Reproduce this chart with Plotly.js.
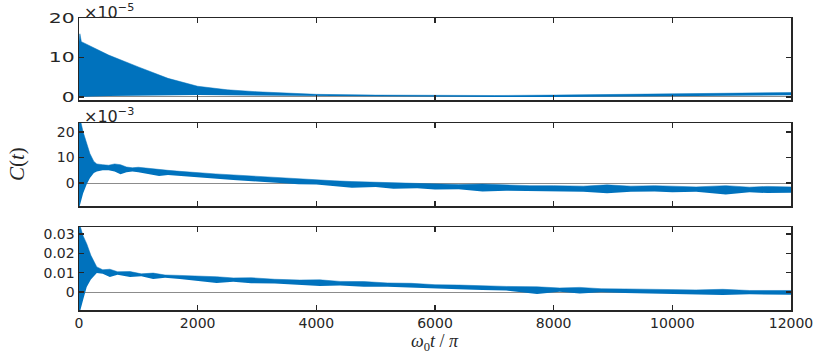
<!DOCTYPE html>
<html>
<head>
<meta charset="utf-8">
<script src="https://cdn.plot.ly/plotly-3.0.1.min.js"></script>
<style>
  html, body { margin: 0; padding: 0; background: #fff; }
  #plot { width: 830px; height: 354px; }
</style>
</head>
<body>
<div id="plot"></div>
<script>
// time axis, omega_0 t / pi
const xTicks = [0, 2000, 4000, 6000, 8000, 10000, 12000];
const xTickText = ['0', '2000', '4000', '6000', '8000', '10000', '12000'];

// top panel, units of 1e-5
const topX = [0, 15, 40, 200, 500, 1000, 1500, 2000, 2500, 3000, 3500, 4000, 5000, 6000, 7000, 8000, 9000, 10000, 11000, 12000];
const topUpper = [14, 16, 14, 12.8, 10.6, 7.6, 4.7, 2.7, 1.8, 1.3, 0.9, 0.65, 0.45, 0.35, 0.35, 0.45, 0.6, 0.7, 0.9, 1.1];
const topLower = [0, 0, 0, 0.1, 0.2, 0.3, 0.4, 0.5, 0.4, 0.35, 0.3, 0.2, 0.1, 0.0, -0.05, 0.0, 0.1, 0.2, 0.3, 0.4];

// middle panel, units of 1e-3
const midX = [0, 30, 70, 130, 185, 250, 300, 400, 500, 600, 700, 800, 900, 1000, 1200, 1350, 1500, 1700, 2000, 2300, 2600, 3000, 3400, 3700, 4000, 4300, 4600, 5000, 5300, 5700, 6000, 6400, 6800, 7200, 7600, 8000, 8500, 8900, 9300, 9700, 10000, 10400, 10900, 11300, 11600, 12000];
const midUpper = [26, 24, 20, 15.7, 11.5, 8.5, 7.5, 7.2, 7.0, 7.5, 7.2, 6.3, 6.0, 6.2, 5.6, 5.3, 5.0, 4.6, 4.0, 3.6, 3.2, 2.6, 2.0, 1.6, 1.2, 0.9, 0.6, 0.3, 0.2, -0.1, -0.5, -0.6, -0.4, -0.8, -1.0, -1.0, -1.2, -0.7, -1.2, -1.0, -1.2, -1.5, -1.0, -1.6, -1.3, -1.5];
const midLower = [-10, -7, -4, -0.5, 2, 4.0, 4.5, 5.0, 5.0, 4.5, 3.5, 4.2, 4.5, 4.2, 3.4, 2.8, 3.2, 2.8, 2.2, 1.8, 1.2, 0.6, 0.0, -0.5, -0.6, -1.2, -1.8, -1.5, -2.2, -2.0, -2.5, -2.4, -3.3, -3.0, -3.2, -3.3, -3.4, -4.0, -3.4, -3.3, -3.6, -3.4, -4.5, -3.6, -3.9, -3.8];

// bottom panel
const botX = [0, 30, 70, 130, 200, 300, 400, 520, 650, 860, 1050, 1250, 1450, 1700, 2040, 2320, 2600, 2900, 3300, 3720, 4060, 4400, 4800, 5200, 5600, 6000, 6400, 6800, 7200, 7720, 8100, 8440, 8800, 9200, 9600, 10010, 10400, 10850, 11300, 12000];
const botUpper = [0.036, 0.033, 0.029, 0.025, 0.019, 0.013, 0.0115, 0.0118, 0.0105, 0.0106, 0.0094, 0.0098, 0.0088, 0.0086, 0.0083, 0.0079, 0.0073, 0.0074, 0.0066, 0.0062, 0.0063, 0.0055, 0.0054, 0.0047, 0.0045, 0.0038, 0.0036, 0.0032, 0.0029, 0.0027, 0.0021, 0.0024, 0.0017, 0.0016, 0.0014, 0.0011, 0.0011, 0.0014, 0.0008, 0.0008];
const botLower = [-0.012, -0.008, -0.004, 0.0026, 0.0065, 0.0098, 0.0095, 0.0078, 0.0089, 0.0078, 0.0082, 0.0067, 0.0074, 0.0068, 0.0058, 0.0047, 0.0053, 0.0046, 0.0044, 0.0037, 0.0031, 0.0034, 0.0027, 0.0027, 0.0022, 0.0016, 0.0014, 0.0010, 0.0008, -0.0010, 0.0002, -0.0008, -0.0001, -0.0005, -0.0007, -0.0010, -0.0011, -0.0016, -0.0012, -0.0014];

const blue = 'rgb(0, 114, 189)';
const ink = '#262626';

function band(xs, lower, upper, n) {
    const xa = n === 1 ? 'x' : 'x' + n;
    const ya = n === 1 ? 'y' : 'y' + n;
    return [
        {x: xs, y: lower, xaxis: xa, yaxis: ya, type: 'scatter', mode: 'lines',
         line: {width: 0, color: blue}, hoverinfo: 'skip', showlegend: false},
        {x: xs, y: upper, xaxis: xa, yaxis: ya, type: 'scatter', mode: 'lines',
         fill: 'tonexty', fillcolor: blue, line: {width: 0.5, color: blue},
         hoverinfo: 'skip', showlegend: false},
    ];
}

const data = [
    ...band(topX, topLower, topUpper, 1),
    ...band(midX, midLower, midUpper, 2),
    ...band(botX, botLower, botUpper, 3),
];

const tickFont = {family: 'DejaVu Sans', size: 14, color: ink};

function xAxis(anchor, labels) {
    return {
        anchor, range: [0, 12000], tickvals: xTicks, ticktext: xTickText, showticklabels: labels,
        ticks: 'inside', ticklen: 5, tickwidth: 1.5, tickcolor: ink,
        showline: true, linecolor: ink, linewidth: 1.5, mirror: 'ticks',
        showgrid: false, zeroline: false, tickfont: tickFont,
    };
}

function yAxis(anchor, domain, range, vals, text) {
    return {
        anchor, domain, range, tickvals: vals, ticktext: text,
        ticks: 'inside', ticklen: 5, tickwidth: 1.5, tickcolor: ink,
        showline: true, linecolor: ink, linewidth: 1.5, mirror: 'ticks',
        showgrid: false, zeroline: true, zerolinecolor: '#8c8c8c', zerolinewidth: 1,
        tickfont: tickFont,
    };
}

const layout = {
    width: 830,
    height: 354,
    margin: {l: 79, r: 39, t: 18, b: 44},
    paper_bgcolor: '#fff',
    plot_bgcolor: '#fff',
    showlegend: false,
    xaxis: xAxis('y', false),
    xaxis2: xAxis('y2', false),
    xaxis3: xAxis('y3', true),
    yaxis: yAxis('x', [0.719, 1], [-0.8, 20], [0, 10, 20], ['0', '10', '20']),
    yaxis2: yAxis('x2', [0.356, 0.640], [-9, 23.5], [0, 10, 20], ['0', '10', '20']),
    yaxis3: yAxis('x3', [0, 0.284], [-0.0093, 0.0336], [0, 0.01, 0.02, 0.03], ['0', '0.01', '0.02', '0.03']),
    annotations: [
        {text: '×10<sup>−5</sup>', xref: 'paper', yref: 'paper', x: 0.004, y: 1.0,
         xanchor: 'left', yanchor: 'bottom', yshift: -6, showarrow: false,
         font: {family: 'DejaVu Sans', size: 16, color: ink}},
        {text: '×10<sup>−3</sup>', xref: 'paper', yref: 'paper', x: 0.004, y: 0.640,
         xanchor: 'left', yanchor: 'bottom', yshift: -5, showarrow: false,
         font: {family: 'DejaVu Sans', size: 16, color: ink}},
        {text: '<i>C</i>(<i>t</i>)', xref: 'paper', yref: 'paper', x: -0.087, y: 0.5,
         xanchor: 'center', yanchor: 'middle', textangle: -90, showarrow: false,
         font: {family: 'Liberation Serif', size: 21, color: ink}},
        {text: '<i>ω</i><sub>0</sub><i>t</i> / <i>π</i>', xref: 'paper', yref: 'paper',
         x: 0.5, y: -0.112, xanchor: 'center', yanchor: 'middle', showarrow: false,
         font: {family: 'Liberation Serif', size: 18, color: ink}},
    ],
};

Plotly.newPlot('plot', data, layout, {displayModeBar: false, staticPlot: true}).then(() => {
    // the reference tick labels are drawn wide, so stretch them sideways
    document.querySelectorAll('.xtick text, .ytick text').forEach(t => {
        const w = t.getComputedTextLength();
        t.setAttribute('textLength', (w * 1.45).toFixed(1));
        t.setAttribute('lengthAdjust', 'spacingAndGlyphs');
    });
});
</script>
</body>
</html>
